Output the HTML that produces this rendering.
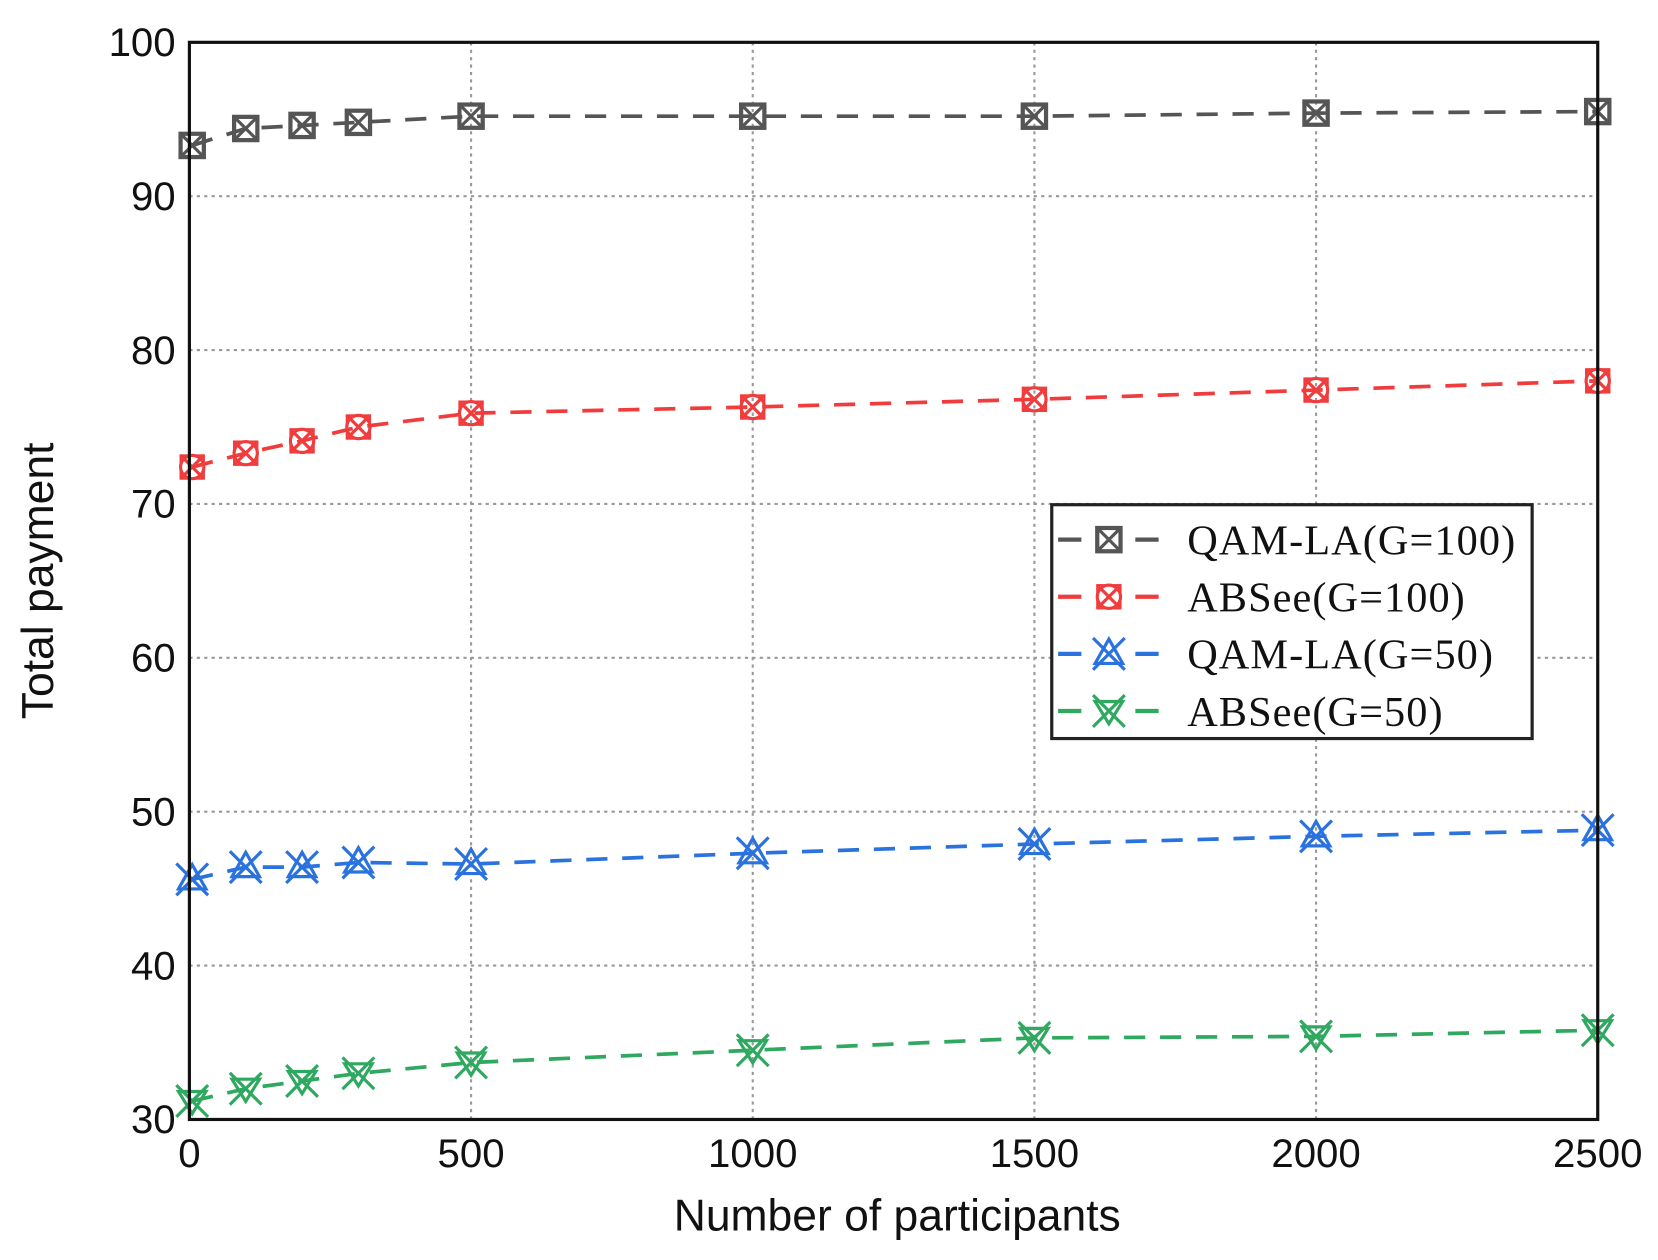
<!DOCTYPE html>
<html><head><meta charset="utf-8"><style>
html,body{margin:0;padding:0;background:#fff;}
svg{display:block;}
</style></head><body>
<svg id="chart" width="1658" height="1260" xmlns="http://www.w3.org/2000/svg">
<g transform="scale(1.0581)">
<g id="grid"></g>
<g id="series"></g>
<rect x="179" y="40" width="1331" height="1018" fill="none" stroke="#111" stroke-width="3"/>
<g id="ticks" font-family="Liberation Sans, sans-serif" font-size="38" fill="#111"></g>
<text x="848" y="1163" text-anchor="middle" font-family="Liberation Sans, sans-serif" font-size="42" fill="#111">Number of participants</text>
<text x="0" y="0" transform="translate(50,549) rotate(-90)" text-anchor="middle" font-family="Liberation Sans, sans-serif" font-size="42" fill="#111">Total payment</text>
<g id="legend"></g>
</g>
</svg>
<script>
const xValues = [5, 100, 200, 300, 500, 1000, 1500, 2000, 2500];
const qamG100 = [93.3, 94.4, 94.6, 94.8, 95.2, 95.2, 95.2, 95.4, 95.5];
const absG100 = [72.4, 73.3, 74.1, 75.0, 75.9, 76.3, 76.8, 77.4, 78.0];
const qamG50 = [45.6, 46.4, 46.4, 46.7, 46.6, 47.3, 47.9, 48.4, 48.8];
const absG50 = [31.2, 32.0, 32.5, 33.0, 33.7, 34.5, 35.3, 35.4, 35.8];
const xTicks = [0, 500, 1000, 1500, 2000, 2500];
const yTicks = [30, 40, 50, 60, 70, 80, 90, 100];
const seriesNames = ["QAM-LA(G=100)", "ABSee(G=100)", "QAM-LA(G=50)", "ABSee(G=50)"];

const NS = "http://www.w3.org/2000/svg";
const X0 = 179, X1 = 1510, Y0 = 1058, Y1 = 40;
function sx(v){ return X0 + (v - 0) / 2500 * (X1 - X0); }
function sy(v){ return Y0 - (v - 30) / 70 * (Y0 - Y1); }
function mk(tag, attrs, parent){ const e = document.createElementNS(NS, tag); for (const k in attrs) e.setAttribute(k, attrs[k]); parent.appendChild(e); return e; }

const grid = document.getElementById('grid');
const ticks = document.getElementById('ticks');
xTicks.forEach(t => {
  const l = mk('line', {x1: sx(t), x2: sx(t), y1: Y1, y2: Y0, stroke: '#999', 'stroke-width': 2, 'stroke-dasharray': '3 4'}, grid);
  
  
  const tx = mk('text', {x: sx(t), y: 1103, 'text-anchor': 'middle'}, ticks);
  tx.textContent = t;
  
  
});
yTicks.forEach(t => {
  const l = mk('line', {x1: X0, x2: X1, y1: sy(t), y2: sy(t), stroke: '#999', 'stroke-width': 2, 'stroke-dasharray': '3 4'}, grid);
  
  
  const tx = mk('text', {x: 166, y: sy(t) + 13, 'text-anchor': 'end'}, ticks);
  tx.textContent = t;
  
  
});

function marker(g, type, x, y, color){
  const s = 11;
  if (type === 0) {
    mk('rect', {x: x - s, y: y - s, width: 2*s, height: 2*s, fill: 'none', stroke: color, 'stroke-width': 4}, g);
    mk('path', {d: `M${x-s} ${y-s}L${x+s} ${y+s}M${x+s} ${y-s}L${x-s} ${y+s}`, stroke: color, 'stroke-width': 3}, g);
  } else if (type === 1) {
    mk('circle', {cx: x, cy: y, r: s, fill: 'none', stroke: color, 'stroke-width': 3}, g);
    mk('rect', {x: x - s, y: y - s, width: 2*s, height: 2*s, fill: 'none', stroke: color, 'stroke-width': 2}, g);
    mk('path', {d: `M${x-s} ${y-s}L${x+s} ${y+s}M${x+s} ${y-s}L${x-s} ${y+s}`, stroke: color, 'stroke-width': 3}, g);
  } else if (type === 2) {
    mk('path', {d: `M${x-15} ${y-15}L${x+15} ${y+15}M${x+15} ${y-15}L${x-15} ${y+15}M${x} ${y-14}L${x+13} ${y+9}L${x-13} ${y+9}Z`, fill: 'none', stroke: color, 'stroke-width': 3}, g);
  } else {
    mk('path', {d: `M${x-15} ${y-15}L${x+15} ${y+15}M${x+15} ${y-15}L${x-15} ${y+15}M${x} ${y+12}L${x+13} ${y-9}L${x-13} ${y-9}Z`, fill: 'none', stroke: color, 'stroke-width': 3}, g);
  }
}

const allSeries = [qamG100, absG100, qamG50, absG50];
const colors = ['#555', '#f03c3c', '#2a72de', '#2fa860'];
const sNames = ['series-qam-la-g100', 'series-absee-g100', 'series-qam-la-g50', 'series-absee-g50'];
const sg = document.getElementById('series');
allSeries.forEach((vals, i) => {
  const g = mk('g', {}, sg);
  
  
  const pts = vals.map((v, j) => sx(xValues[j]) + ',' + sy(v)).join(' ');
  const pl = mk('polyline', {points: pts, fill: 'none', stroke: colors[i], 'stroke-width': 3.5, 'stroke-dasharray': '20 14'}, g);
  
  
  vals.forEach((v, j) => {
    const mg = mk('g', {}, g);
    
    
    marker(mg, i, sx(xValues[j]), sy(v), colors[i]);
  });
});

const lg = document.getElementById('legend');
const box = mk('rect', {x: 994, y: 477, width: 454, height: 221, fill: '#fff', stroke: '#222', 'stroke-width': 3}, lg);


seriesNames.forEach((n, i) => {
  const y = 510 + i * 54;
  const eg = mk('g', {}, lg);
  
  
  mk('line', {x1: 1000, x2: 1022, y1: y, y2: y, stroke: colors[i], 'stroke-width': 4}, eg);
  mk('line', {x1: 1073, x2: 1095, y1: y, y2: y, stroke: colors[i], 'stroke-width': 4}, eg);
  marker(eg, i, 1048, y, colors[i]);
  const t = mk('text', {x: 1122, y: y + 14, 'font-family': 'Liberation Serif, serif', 'font-size': 40, 'letter-spacing': 1, fill: '#111'}, eg);
  t.textContent = n;
  
  
});
</script>
</body></html>
